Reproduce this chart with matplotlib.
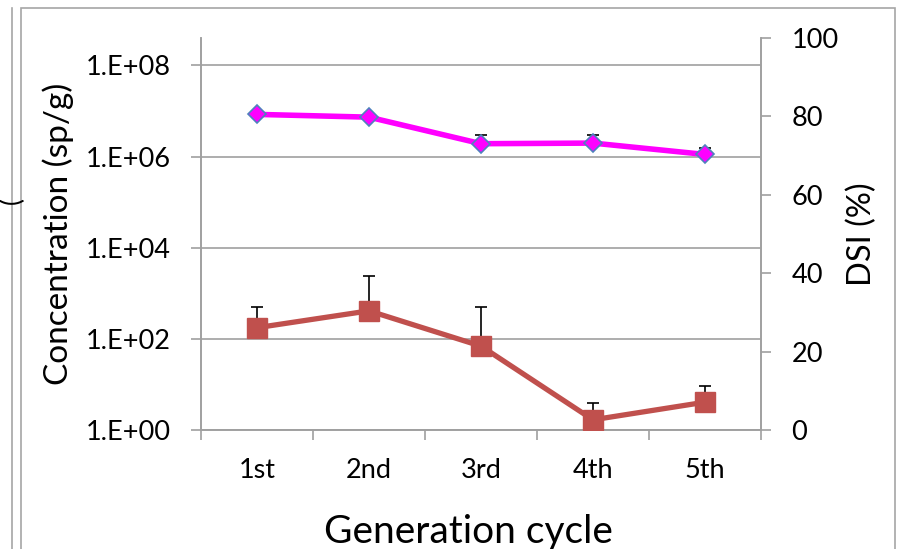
import numpy as np
import matplotlib.pyplot as plt
from matplotlib.patches import Rectangle
from matplotlib.lines import Line2D

plt.rcParams['font.family'] = ['Lato', 'DejaVu Sans']

# データ
cycles = ["1st", "2nd", "3rd", "4th", "5th"]
conc = [8.4e6, 7.3e6, 1.91e6, 1.97e6, 1.11e6]        # 濃度 (sp/g)
conc_err = [0.2e6, 0.2e6, 1.03e6, 0.97e6, 0.45e6]
dsi = [26.1, 30.4, 21.4, 2.6, 7.1]                   # DSI (%)
dsi_err = [5.3, 8.8, 10.0, 4.4, 4.1]

left_ticks = [1e0, 1e2, 1e4, 1e6, 1e8]
left_labels = ["1.E+00", "1.E+02", "1.E+04", "1.E+06", "1.E+08"]
right_ticks = [0, 20, 40, 60, 80, 100]

W, H = 901, 549
fig = plt.figure(figsize=(W / 100, H / 100), dpi=100)
ax = fig.add_axes([201 / W, 1 - 430 / H, 560 / W, 392 / H])
ax2 = ax.twinx()

gray = "#a0a0a0"
x = np.arange(1, len(cycles) + 1)

# 濃度 (左軸, log)
ax.errorbar(x, conc, yerr=[np.zeros(len(conc)), conc_err], color="#ff00ff",
            lw=4, marker="D", ms=9, mfc="#ff00ff", mec="#4f81bd", mew=1.2,
            ecolor="black", elinewidth=1.2, capsize=4, capthick=1.2, zorder=3)
ax.set_yscale("log")
ax.set_ylim(1, 10 ** 8.6)
ax.set_yticks(left_ticks)
ax.set_yticklabels(left_labels)
ax.yaxis.set_minor_locator(plt.NullLocator())
ax.grid(axis="y", color=gray, lw=1.2)
ax.set_axisbelow(True)

# DSI (右軸)
ax2.errorbar(x, dsi, yerr=[np.zeros(len(dsi)), dsi_err], color="#c0504d",
             lw=3.8, marker="s", ms=14, mfc="#c0504d", mec="#c0504d",
             ecolor="black", elinewidth=1.2, capsize=4, capthick=1.2, zorder=3)
ax2.set_ylim(0, 100)
ax2.set_yticks(right_ticks)

# x軸
ax.set_xlim(0.5, len(cycles) + 0.5)
ax.set_xticks(np.arange(0.5, len(cycles) + 1, 1))
ax.set_xticklabels([])
ax.set_xticks(x, minor=True)
ax.set_xticklabels(cycles, minor=True)
ax.tick_params(axis="x", which="major", length=7, width=1.2, color=gray, direction="out")
ax.tick_params(axis="x", which="minor", length=0, labelsize=19.5, pad=20)
ax.tick_params(axis="y", length=7, width=1.2, color=gray, labelsize=19.5, pad=15)
ax2.tick_params(axis="y", length=7, width=1.2, color=gray, labelsize=19.5, pad=15)

for a in (ax, ax2):
    a.spines["top"].set_visible(False)
    for s in ("left", "right", "bottom"):
        a.spines[s].set_color(gray)
        a.spines[s].set_linewidth(1.2)

ax.set_ylabel("Concentration (sp/g)", fontsize=24, labelpad=8)
ax2.set_ylabel("DSI (%)", fontsize=23.5, labelpad=6)
fig.text(468 / W, 1 - 532 / H, "Generation cycle", fontsize=28, ha="center", va="center")

# 外枠
fig.add_artist(Rectangle((21 / W, -0.05), (895 - 21) / W, (H - 8) / H + 0.05,
                         transform=fig.transFigure, fill=False, ec="#a6a6a6", lw=1.2))
fig.add_artist(Line2D([12 / W, 12 / W], [0, 1 - 8 / H], transform=fig.transFigure,
                      color="#a6a6a6", lw=1.2))
fig.text(0, 1 - 200 / H, "(", rotation=90, fontsize=19, ha="left", va="center")

fig.savefig("out.png", dpi=100)
